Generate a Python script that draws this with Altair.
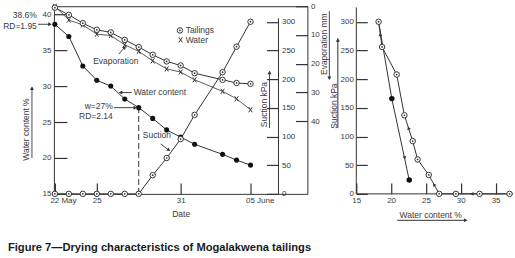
import altair as alt
import pandas as pd

# ---------------- data ----------------
# left panel: days after 22 May
days = [0, 1, 2, 3, 4, 5, 6, 7, 8, 9, 10, 12, 13, 14]
water_content = [38.6, 36.9, 32.8, 30.8, 30.0, 28.2, 27.0, 25.5, 23.9, 22.9, 21.9, 20.5, 19.7, 19.0]
suction = [0, 0, 0, 0, 0, 0, 0, 32.5, 62.5, 95.5, 137.7, 212, 256.5, 300]
evap_tailings = [0.5, 3.0, 5.9, 8.2, 9.1, 11.7, 14.2, 16.9, 19.2, 20.6, 23.3, 25.6, 26.7, 27.0]
evap_water = [0, 4.8, 6.5, 9.7, 10.2, 13.4, 15.7, 19.0, 21.8, 22.9, 25.6, 29.6, 32.2, 36.0]

date_ticks = [0, 3, 9, 14]
date_labels = ["22 May", "25", "31", "05 June"]
wc_ticks = [15, 20, 25, 30, 35, 40]
suction_ticks = [0, 50, 100, 150, 200, 250, 300]
evap_ticks = [0, 10, 20, 30, 40]
wc2_ticks = [15, 20, 25, 30, 35]

# right panel: suction vs water content
curve_tail_wc = [18.2, 18.7, 20.8, 21.9, 23.1, 23.8, 25.4, 26.9, 29.3, 32.7, 37.0]
curve_tail_suction = [300, 256, 208, 137, 92, 60, 33, 0, 0, 0, 0]
curve_solid_wc = [20.1, 22.6]
curve_solid_suction = [166, 24]

# direction arrows on the right-panel curves (position + heading in degrees)
dir_wc = [18.44, 22.5, 26.16, 31.6, 21.95]
dir_suction = [278, 114.6, 16, 0, 62.8]
dir_angle = [352, 343, 329, 270, 168]

caption = "Figure 7\u2014Drying characteristics of Mogalakwena tailings"

# ---------------- style ----------------
FONT = "Liberation Sans, Arial, Helvetica, sans-serif"
INK = "#333333"
TXT = "#3a3a3a"
XPATH = "M-0.7,-1L0.7,1M-0.7,1L0.7,-1"
FS = 8.5

W1, H1 = 254, 188
W2 = 157

sx1 = alt.Scale(domain=[-0.07, 18.07], nice=False, zero=False)
swc = alt.Scale(domain=[15, 41.11], nice=False, zero=False)
ssuc = alt.Scale(domain=[0, 327], nice=False, zero=False)
sev = alt.Scale(domain=[0, 65.28], nice=False, zero=False, reverse=True)
sx2 = alt.Scale(domain=[15, 37.5], nice=False, zero=False)

expr = "''"
for d, l in reversed(list(zip(date_ticks, date_labels))):
    expr = f"datum.value == {d} ? '{l}' : {expr}"
edge_test = f"datum.value == {date_ticks[0]} || datum.value == {date_ticks[-1]}"

x_axis = alt.Axis(orient="bottom", values=date_ticks, labelExpr=expr, offset=-11, tickSize=11,
                  domain=False, labelPadding=3, labelFlush=False, labelOverlap=False,
                  labelAlign={"condition": {"test": edge_test, "value": "left"}, "value": "center"},
                  labelOffset={"condition": {"test": edge_test, "value": -5}, "value": 0},
                  title="Date", titleX=127, titleY=31, titleBaseline="middle", titleAlign="center")
wc_axis = alt.Axis(orient="left", values=wc_ticks, offset=-13, tickSize=13, domain=False,
                   labelPadding=3, labelOverlap=False, title="Water content %", titleX=-41, titleY=123,
                   titleAngle=270, titleBaseline="middle", titleAlign="center")
suc_axis = alt.Axis(orient="right", values=suction_ticks, offset=-41, tickSize=12, domain=False,
                    labelPadding=3, labelOverlap=False, title="Suction kPa", titleX=-3, titleY=98,
                    titleAngle=270, titleBaseline="middle", titleAlign="center")
ev_axis = alt.Axis(orient="right", values=evap_ticks, offset=-12, tickSize=12, domain=False,
                   labelPadding=3, labelOverlap=False, title="Evaporation mm", titleX=28, titleY=37.5,
                   titleAngle=270, titleBaseline="middle", titleAlign="center")

# ---------------- left panel ----------------
df = pd.DataFrame(dict(day=days, wc=water_content, suction=suction, ev_t=evap_tailings, ev_w=evap_water))
base = alt.Chart(df)
X = alt.X("day:Q", scale=sx1, axis=x_axis)


def Ywc(f):
    return alt.Y(f, scale=swc, axis=None)


wc_line = base.mark_line(color=INK, strokeWidth=1).encode(x=X, y=alt.Y("wc:Q", scale=swc, axis=wc_axis))
wc_pts = base.mark_circle(size=26, color="#111111", opacity=1).encode(x=X, y=Ywc("wc:Q"))
dash = alt.Chart(pd.DataFrame({"day": [days[6]], "lo": [15], "hi": [water_content[6]]})).mark_rule(
    color=INK, strokeDash=[6, 3], strokeWidth=1).encode(x=X, y=Ywc("lo:Q"), y2="hi:Q")

suc_line = base.mark_line(color=INK, strokeWidth=1).encode(
    x=X, y=alt.Y("suction:Q", scale=ssuc, axis=suc_axis))
suc_pts = base.mark_circle(size=30, fill="white", stroke=INK, strokeWidth=1, opacity=1).encode(
    x=X, y=alt.Y("suction:Q", scale=ssuc, axis=None))
suc_dot = base.mark_circle(size=3, color=INK, opacity=1).encode(
    x=X, y=alt.Y("suction:Q", scale=ssuc, axis=None))
suc_axis_line = alt.Chart(pd.DataFrame({"day": [16], "lo": [0], "hi": [306]})).mark_rule(
    color=INK, strokeWidth=1).encode(x=X, y=alt.Y("lo:Q", scale=ssuc, axis=None), y2="hi:Q")

ev_t_line = base.mark_line(color=INK, strokeWidth=1).encode(
    x=X, y=alt.Y("ev_t:Q", scale=sev, axis=ev_axis))
ev_w_line = base.mark_line(color=INK, strokeWidth=0.8).encode(
    x=X, y=alt.Y("ev_w:Q", scale=sev, axis=None))
ev_w_x = base.mark_point(shape=XPATH, size=26, stroke=INK, strokeWidth=1, filled=False, opacity=1).encode(
    x=X, y=alt.Y("ev_w:Q", scale=sev, axis=None))
ev_t_pts = base.mark_circle(size=30, fill="white", stroke=INK, strokeWidth=1, opacity=1).encode(
    x=X, y=alt.Y("ev_t:Q", scale=sev, axis=None))
ev_t_dot = base.mark_circle(size=3, color=INK, opacity=1).encode(
    x=X, y=alt.Y("ev_t:Q", scale=sev, axis=None))

# annotations (placed in day / water-content coordinates)
ann_right = pd.DataFrame({"day": [-1.29, -1.29, 4.14, 4.14], "wc": [39.82, 38.29, 27.18, 25.79],
                          "t": ["38.6%", "RD=1.95", "w=27%", "RD=2.14"]})
ann_left = pd.DataFrame({"day": [5.64, 6.29, 9.36, 9.36], "wc": [29.17, 23.13, 37.74, 36.43],
                         "t": ["Water content", "Suction", "Tailings", "Water"]})
ann_center = pd.DataFrame({"day": [4.36], "wc": [33.43], "t": ["Evaporation"]})


def txt(d, align):
    return alt.Chart(d).mark_text(align=align, baseline="middle", font=FONT, fontSize=FS, color=TXT).encode(
        x=X, y=Ywc("wc:Q"), text="t:N")


seg = pd.DataFrame({
    "day": [-1.21, 4.57, 5.5, 4.21, 7.57, -1.64, 15.36, 19.64],
    "wc": [38.6, 34.44, 29.1, 27.0, 21.94, 20.0, 24.17, 40.42],
    "day2": [-0.35, 5.0, 4.7, 5.75, 8.15, -1.64, 15.36, 19.64],
    "wc2": [38.6, 35.4, 29.1, 27.0, 21.1, 29.8, 32.0, 31.0],
})
heads = pd.DataFrame({
    "day": [-0.35, 5.0, 4.7, 5.75, 8.15, -1.64, 15.36, 19.64],
    "wc": [38.6, 35.4, 29.1, 27.0, 21.1, 29.7, 31.9, 31.1],
    "ang": [90, 43, 270, 90, 126, 0, 0, 180],
})
seg_l = alt.Chart(seg).mark_rule(color=INK, strokeWidth=0.9).encode(
    x=X, y=Ywc("wc:Q"), x2="day2:Q", y2="wc2:Q")
head_l = alt.Chart(heads).mark_point(shape="triangle-up", filled=True, size=16, color=INK, opacity=1).encode(
    x=X, y=Ywc("wc:Q"), angle=alt.Angle("ang:Q", scale=None))

leg_c = pd.DataFrame({"day": [8.95], "wc": [37.74]})
leg_x = pd.DataFrame({"day": [9.0], "wc": [36.43]})
leg_c1 = alt.Chart(leg_c).mark_circle(size=30, fill="white", stroke=INK, strokeWidth=1, opacity=1).encode(
    x=X, y=Ywc("wc:Q"))
leg_c2 = alt.Chart(leg_c).mark_circle(size=3, color=INK, opacity=1).encode(x=X, y=Ywc("wc:Q"))
leg_x1 = alt.Chart(leg_x).mark_point(shape=XPATH, size=26, stroke=INK, strokeWidth=1, filled=False,
                                     opacity=1).encode(x=X, y=Ywc("wc:Q"))

cap = alt.Chart(pd.DataFrame({"day": [-3.36], "wc": [7.05], "t": [caption]})).mark_text(
    align="left", baseline="alphabetic", font=FONT, fontSize=11.2, fontWeight="bold", color="#1a1a1a").encode(
    x=X, y=Ywc("wc:Q"), text="t:N")

left = alt.layer(
    wc_line, dash, suc_line, suc_axis_line, ev_t_line, ev_w_line,
    wc_pts, suc_pts, suc_dot, ev_w_x, ev_t_pts, ev_t_dot,
    txt(ann_right, "right"), txt(ann_left, "left"), txt(ann_center, "center"),
    seg_l, head_l, leg_c1, leg_c2, leg_x1, cap,
).resolve_scale(y="independent").properties(
    width=W1, height=H1, view=alt.ViewBackground(stroke=INK, strokeWidth=1))

# ---------------- right panel ----------------
ry_axis = alt.Axis(orient="left", values=suction_ticks, offset=-11, tickSize=11, domain=False,
                   labelPadding=3, labelOverlap=False, title="Suction kPa", titleX=-34, titleY=99.5,
                   titleAngle=270, titleBaseline="middle", titleAlign="center")
rx_axis = alt.Axis(orient="bottom", values=wc2_ticks, offset=-11, tickSize=11, domain=False,
                   labelPadding=3, labelFlush=False, labelOverlap=False, title="Water content %",
                   titleX=74, titleY=32, titleBaseline="middle", titleAlign="center")

dft = pd.DataFrame({"w": curve_tail_wc, "s": curve_tail_suction})
dfs_line = pd.DataFrame({"w": [curve_tail_wc[0]] + curve_solid_wc,
                         "s": [curve_tail_suction[0]] + curve_solid_suction})
dfs_pts = pd.DataFrame({"w": curve_solid_wc, "s": curve_solid_suction})
dfd = pd.DataFrame({"w": dir_wc, "s": dir_suction, "ang": dir_angle})

RX = alt.X("w:Q", scale=sx2, axis=rx_axis)
RY = alt.Y("s:Q", scale=ssuc, axis=ry_axis)

r_tail_line = alt.Chart(dft).mark_line(color=INK, strokeWidth=1).encode(x=RX, y=RY)
r_solid_line = alt.Chart(dfs_line).mark_line(color=INK, strokeWidth=1).encode(x=RX, y=RY)
r_tail_pts = alt.Chart(dft).mark_circle(size=30, fill="white", stroke=INK, strokeWidth=1, opacity=1).encode(
    x=RX, y=RY)
r_tail_dot = alt.Chart(dft).mark_circle(size=3, color=INK, opacity=1).encode(x=RX, y=RY)
r_solid_pts = alt.Chart(dfs_pts).mark_circle(size=30, color="#111111", opacity=1).encode(x=RX, y=RY)
r_dirs = alt.Chart(dfd).mark_point(shape="triangle-up", filled=True, size=14, color=INK, opacity=1).encode(
    x=RX, y=RY, angle=alt.Angle("ang:Q", scale=None))

rseg = pd.DataFrame({"w": [15, 15, 12.35, 20.87], "s": [0, 0, 114.8, -46.1],
                     "w2": [15, 37.5, 12.35, 30.7], "s2": [325, 0, 271, -46.1]})
rheads = pd.DataFrame({"w": [12.35, 30.7], "s": [268, -46.1], "ang": [0, 90]})
r_seg = alt.Chart(rseg).mark_rule(color=INK, strokeWidth=1).encode(x=RX, y=RY, x2="w2:Q", y2="s2:Q")
r_heads = alt.Chart(rheads).mark_point(shape="triangle-up", filled=True, size=16, color=INK, opacity=1).encode(
    x=RX, y=RY, angle=alt.Angle("ang:Q", scale=None))

right = alt.layer(
    r_tail_line, r_solid_line, r_seg, r_tail_pts, r_tail_dot, r_solid_pts, r_dirs, r_heads
).properties(width=W2, height=H1)

chart = alt.hconcat(left, right, spacing=49, bounds="flush").properties(
    padding={"left": 2, "top": 0, "right": 0, "bottom": 0}, background="white"
).configure_view(strokeWidth=0).configure_axis(
    labelFont=FONT, titleFont=FONT, labelFontSize=8, titleFontSize=FS, labelColor=TXT,
    titleColor=TXT, titleFontWeight="normal", tickColor=INK, tickWidth=1.2, grid=False
)

chart.save("out.html", embed_options={"renderer": "svg", "actions": False})
